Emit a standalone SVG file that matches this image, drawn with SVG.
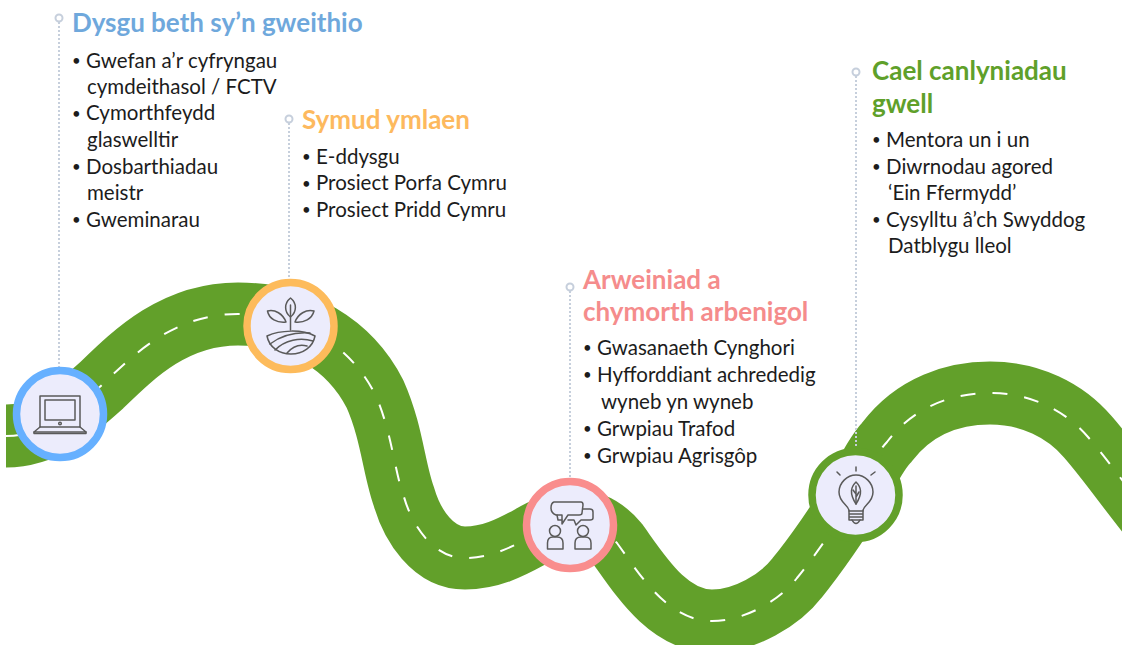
<svg xmlns="http://www.w3.org/2000/svg" width="1122" height="645" viewBox="0 0 1122 645">
<style>
.road{fill:none;stroke:#62a02a;stroke-width:63}
.mid{fill:none;stroke:#fff;stroke-width:2;stroke-dasharray:15 17}
.lead{fill:none;stroke:#c6cfdc;stroke-width:2;stroke-dasharray:2 2}
.ring{fill:#fff;stroke:#c6cfdc;stroke-width:2}
.disc{fill:#ececfc;stroke-width:7.5}
.ic{fill:none;stroke:#5a5a5a;stroke-width:1.5;stroke-linejoin:round;stroke-linecap:round}
text{font-family:"Lato","Open Sans","Liberation Sans",sans-serif}
.h{font-size:26px;font-weight:700}
.b{font-size:20.5px;fill:#1c1c1c}
.d{font-size:15px;fill:#1c1c1c}
</style>
<g id="connectors">
<path id="road" class="road" d="M6,436 C45,436 72,412 102,385 C135,353 175,314 238,314 C300,314 350,345 375,394 C392,432 394,470 404,497 C412,525 433,558 465,558 C490,558 510,548 530,537 C548,527 585,505 617,543 C640,575 668,621 712,621 C745,621 780,600 797,578 C815,556 840,520 856,493 C866,475 875,455 887,442 C915,405 955,393 990,393 C1030,393 1065,410 1088,437 C1115,468 1135,500 1170,540"/>
<path class="mid" d="M6,436 C45,436 72,412 102,385 C135,353 175,314 238,314 C300,314 350,345 375,394 C392,432 394,470 404,497 C412,525 433,558 465,558 C490,558 510,548 530,537 C548,527 585,505 617,543 C640,575 668,621 712,621 C745,621 780,600 797,578 C815,556 840,520 856,493 C866,475 875,455 887,442 C915,405 955,393 990,393 C1030,393 1065,410 1088,437 C1115,468 1135,500 1170,540"/>
<path class="lead" d="M59,22V368"/>
<path class="lead" d="M289,123V280"/>
<path class="lead" d="M570,291V478"/>
<path class="lead" d="M856,76V450"/>
</g>
<g id="node1">
<circle class="ring" cx="59" cy="18" r="3.5"/>
<text class="h" x="72" y="32" fill="#6fa8dc">Dysgu beth sy’n gweithio</text>
<text class="d" x="72" y="66">•</text><text class="b" x="86" y="67.500">Gwefan a’r cyfryngau</text>
<text class="b" x="87" y="93.500">cymdeithasol / FCTV</text>
<text class="d" x="72" y="119">•</text><text class="b" x="86" y="120">Cymorthfeydd</text>
<text class="b" x="87" y="147">glaswelltir</text>
<text class="d" x="72" y="172">•</text><text class="b" x="86" y="173.500">Dosbarthiadau</text>
<text class="b" x="87" y="200">meistr</text>
<text class="d" x="72" y="225">•</text><text class="b" x="86" y="227">Gweminarau</text>
<circle class="disc" cx="60" cy="414" r="43.500" stroke="#66b0ff"/>
<g class="ic">
<rect x="40" y="396" width="40" height="31"/>
<rect x="45" y="400" width="30" height="20"/>
<circle cx="60" cy="423.500" r="1.300"/>
<path d="M40,427 L34,432 H86 L80,427"/>
<path d="M34,432 V433.500 H86 V432"/>
</g>
</g>
<g id="node2">
<circle class="ring" cx="289" cy="119" r="3.5"/>
<text class="h" x="302" y="129" fill="#fdb95e">Symud ymlaen</text>
<text class="d" x="302" y="162">•</text><text class="b" x="316" y="164">E-ddysgu</text>
<text class="d" x="302" y="189">•</text><text class="b" x="316" y="190">Prosiect Porfa Cymru</text>
<text class="d" x="302" y="215">•</text><text class="b" x="316" y="217">Prosiect Pridd Cymru</text>
<circle class="disc" cx="290.500" cy="326" r="43.500" stroke="#fdbb5b"/>
<g class="ic">
<path d="M290.500,298 C284,303 284,312 290.500,317 C297,312 297,303 290.500,298 Z"/>
<path d="M290.500,305 V330"/>
<path d="M267.500,311 C275,309 283,314 286,322 C277,323 269,319 267.500,311 Z"/>
<path d="M314,311 C306,309 298,314 295,322 C304,323 312,319 314,311 Z"/>
<path d="M267,336 C280,330 302,329 315,336 C313,347 303,354 291,354 C279,354 269,347 267,336 Z"/>
<path d="M270,344 C282,335 295,332 310,333"/>
<path d="M275,350 C285,340 300,337 313,341"/>
<path d="M287,353 C293,346 300,344 307,346"/>
</g>
</g>
<g id="node3">
<circle class="ring" cx="570" cy="287" r="3.5"/>
<text class="h" x="583" y="289" fill="#f58c8c">Arweiniad a</text>
<text class="h" x="583" y="321" fill="#f58c8c">chymorth arbenigol</text>
<text class="d" x="583" y="353">•</text><text class="b" x="597" y="355">Gwasanaeth Cynghori</text>
<text class="d" x="583" y="380">•</text><text class="b" x="597" y="382">Hyfforddiant achrededig</text>
<text class="b" x="601" y="409">wyneb yn wyneb</text>
<text class="d" x="583" y="434">•</text><text class="b" x="597" y="436">Grwpiau Trafod</text>
<text class="d" x="583" y="461">•</text><text class="b" x="597" y="463">Grwpiau Agrisgôp</text>
<circle class="disc" cx="570" cy="525" r="43.500" stroke="#f98d8d"/>
<g class="ic">
<path d="M554,502 H581 Q583,502 583,505 L582,513 Q582,515 579,515 H568 L562,524 L562,515 H556 Q551,513 551,508 Q551,503 554,502 Z"/>
<path d="M583,509 H590 Q593,509 593,512 V518 Q593,520 590,520 H581 L576,525 L574,520 H568"/>
<path d="M557,515 L558,520 H562"/>
<circle cx="555" cy="531" r="5.500"/>
<circle cx="583" cy="531" r="5.500"/>
<path d="M547.500,549 V543 Q547.500,537 553,537 H557 Q563,537 563,543 V549 Z"/>
<path d="M575,549 V543 Q575,537 581,537 H585 Q591,537 591,543 V549 Z"/>
</g>
</g>
<g id="node4">
<circle class="ring" cx="856" cy="72" r="3.5"/>
<text class="h" x="872" y="80" fill="#5fa02a">Cael canlyniadau</text>
<text class="h" x="872" y="113" fill="#5fa02a">gwell</text>
<text class="d" x="872" y="145">•</text><text class="b" x="886" y="147">Mentora un i un</text>
<text class="d" x="872" y="172">•</text><text class="b" x="886" y="173.500">Diwrnodau agored</text>
<text class="b" x="888" y="200">‘Ein Ffermydd’</text>
<text class="d" x="872" y="225">•</text><text class="b" x="886" y="227">Cysylltu â’ch Swyddog</text>
<text class="b" x="888" y="253">Datblygu lleol</text>
<circle class="disc" cx="855.500" cy="495" r="43.500" stroke="#62a02a"/>
<g class="ic">
<path d="M856,467 V471 M837,472 L840,475 M875,472 L871,475"/>
<path d="M849,511 C849,505 839,503 839,492 C839,483 847,475 856,475 C865,475 873,483 873,492 C873,503 863,505 863,511 Z"/>
<path d="M849,511 V520 H863 V511 M849,514 H863 M849,517 H863"/>
<path d="M852,520 Q856,527 860,520"/>
<path d="M856,482 C851,487 849,493 856,504 C863,493 861,487 856,482 Z"/>
<path d="M856,486 V504 M853,490 L856,494 M859,492 L856,497"/>
</g>
</g>
</svg>
